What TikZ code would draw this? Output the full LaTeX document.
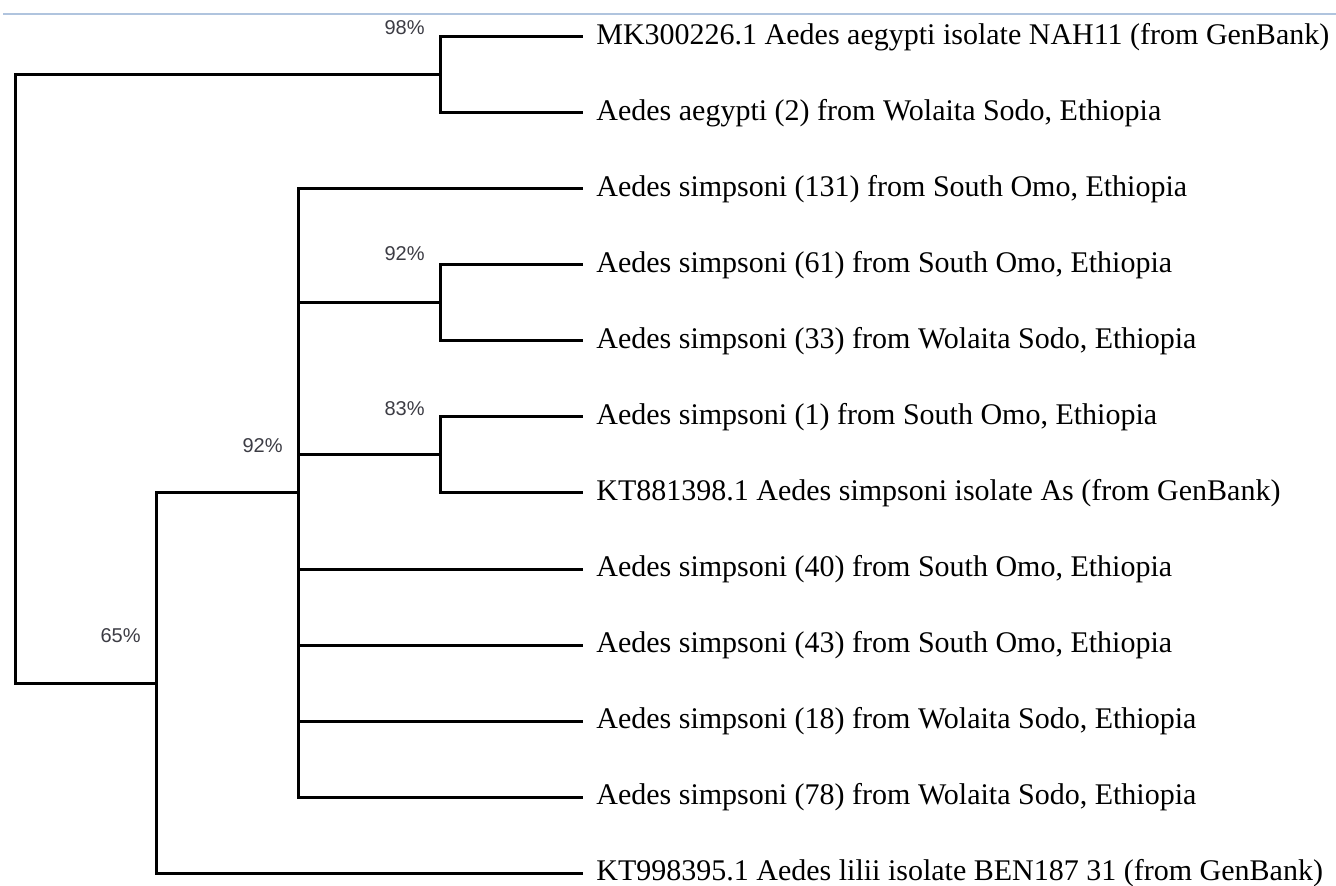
\documentclass[tikz,border=0pt]{standalone}
\usepackage{fontspec}
\setmainfont{Liberation Serif}
\newfontfamily\bootfont{Liberation Sans}
\definecolor{rulecol}{RGB}{176,196,222}
\definecolor{bootcol}{RGB}{60,60,68}
\tikzset{
  branch/.style={line width=1.5pt},
  taxon/.style={anchor=west, inner xsep=6.5pt, inner ysep=0pt,
    font=\fontsize{15}{18}\selectfont},
  boot/.style={anchor=east, inner sep=0pt, text=bootcol,
    font=\bootfont\fontsize{10}{12}\selectfont}
}
\begin{document}
\begin{tikzpicture}[x=0.5pt, y=-0.5pt]
      \useasboundingbox (0,0) rectangle (1336,886);
      \draw[rulecol, line width=1pt] (3,14) -- (1336,14);
      \path
        (15,379) coordinate (root)
        (440,75) coordinate (n98)
        (156,683) coordinate (n65)
        (298,493) coordinate (n92a)
        (440,303) coordinate (n92b)
        (440,455) coordinate (n83);
      \path
        (583,37) node[taxon] (l1) {MK300226.1 Aedes aegypti isolate NAH11 (from GenBank)}
        (583,113) node[taxon] (l2) {Aedes aegypti (2) from Wolaita Sodo, Ethiopia}
        (583,189) node[taxon] (l3) {Aedes simpsoni (131) from South Omo, Ethiopia}
        (583,265) node[taxon] (l4) {Aedes simpsoni (61) from South Omo, Ethiopia}
        (583,341) node[taxon] (l5) {Aedes simpsoni (33) from Wolaita Sodo, Ethiopia}
        (583,417) node[taxon] (l6) {Aedes simpsoni (1) from South Omo, Ethiopia}
        (583,493) node[taxon] (l7) {KT881398.1 Aedes simpsoni isolate As (from GenBank)}
        (583,569) node[taxon] (l8) {Aedes simpsoni (40) from South Omo, Ethiopia}
        (583,645) node[taxon] (l9) {Aedes simpsoni (43) from South Omo, Ethiopia}
        (583,721) node[taxon] (l10) {Aedes simpsoni (18) from Wolaita Sodo, Ethiopia}
        (583,797) node[taxon] (l11) {Aedes simpsoni (78) from Wolaita Sodo, Ethiopia}
        (583,873) node[taxon] (l12) {KT998395.1 Aedes lilii isolate BEN187 31 (from GenBank)};
      \path
        (425,28) node[boot] (b98) {98\%}
        (425,254) node[boot] (b92b) {92\%}
        (425,409) node[boot] (b83) {83\%}
        (283,446) node[boot] (b92a) {92\%}
        (141,636) node[boot] (b65) {65\%};
      \begin{scope}[branch]
        \draw (root) |- (n98);
        \draw (root) |- (n65);
        \draw (n98) |- (l1);
        \draw (n98) |- (l2);
        \draw (n65) |- (n92a);
        \draw (n65) |- (l12);
        \draw (n92a) |- (l3);
        \draw (n92a) |- (n92b);
        \draw (n92a) |- (n83);
        \draw (n92a) |- (l8);
        \draw (n92a) |- (l9);
        \draw (n92a) |- (l10);
        \draw (n92a) |- (l11);
        \draw (n92b) |- (l4);
        \draw (n92b) |- (l5);
        \draw (n83) |- (l6);
        \draw (n83) |- (l7);
      \end{scope}
    \end{tikzpicture}
\end{document}
